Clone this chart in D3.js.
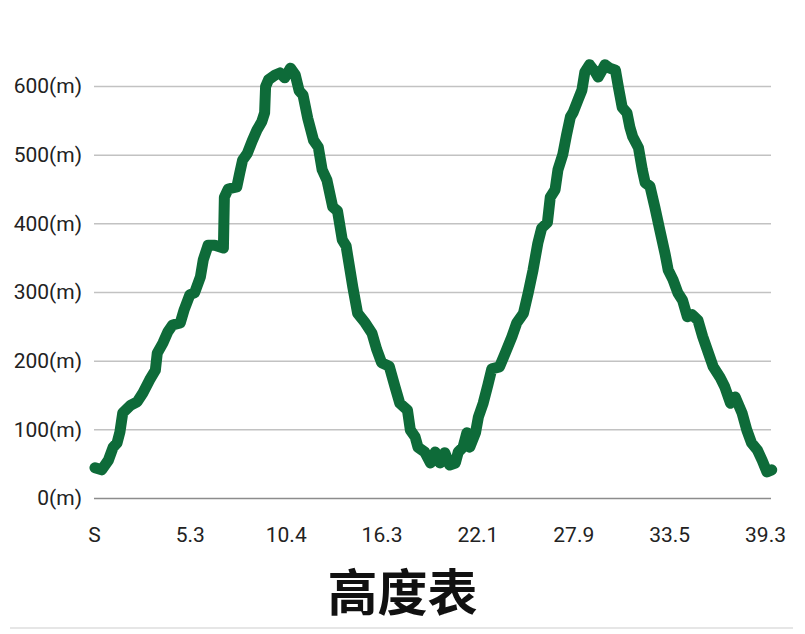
<!DOCTYPE html>
<html>
<head>
<meta charset="utf-8">
<script src="https://cdn.jsdelivr.net/npm/d3@7"></script>
<style>
	body { margin: 0; background: #fff; }
	svg { display: block; }
	.tick text { font-family: Roboto, "Noto Sans", sans-serif; font-size: 21px; fill: #222; }
</style>
</head>
<body>
<script>
// elevation profile data
// position along the route, in label intervals (S = 0, 39.3 = 7)
const pos = [0.01,0.08,0.15,0.20,0.24,0.27,0.30,0.38,0.45,0.51,
	0.58,0.64,0.66,0.72,0.77,0.82,0.90,0.94,1.00,1.05,
	1.11,1.14,1.19,1.26,1.35,1.36,1.40,1.49,1.52,1.55,
	1.60,1.65,1.70,1.75,1.78,1.79,1.82,1.89,1.94,1.99,
	2.05,2.10,2.14,2.18,2.23,2.29,2.34,2.38,2.43,2.49,
	2.54,2.59,2.63,2.70,2.75,2.83,2.90,2.95,3.00,3.08,
	3.14,3.19,3.27,3.30,3.35,3.38,3.45,3.51,3.56,3.61,
	3.66,3.71,3.77,3.80,3.85,3.89,3.92,3.98,4.01,4.06,
	4.11,4.15,4.23,4.29,4.36,4.41,4.48,4.53,4.58,4.63,
	4.67,4.73,4.76,4.81,4.84,4.89,4.93,4.97,5.00,5.05,
	5.09,5.12,5.17,5.23,5.26,5.30,5.33,5.38,5.44,5.47,
	5.51,5.56,5.59,5.62,5.68,5.72,5.75,5.80,5.85,5.90,
	5.96,5.99,6.04,6.09,6.14,6.19,6.24,6.30,6.35,6.41,
	6.46,6.53,6.58,6.64,6.69,6.76,6.81,6.86,6.92,6.97,7.02,7.07];
// elevation in metres
const elev = [44,41,55,74,80,96,124,135,140,153,
	172,186,211,226,242,252,255,274,296,299,
	322,347,368,368,364,438,450,453,473,492,
	502,520,536,548,561,599,609,616,619,612,
	626,616,593,587,553,521,511,478,463,424,
	418,376,367,307,269,255,240,216,197,192,
	162,138,128,99,89,74,67,51,67,51,
	66,48,51,67,74,95,74,95,118,138,
	165,188,191,211,235,255,269,299,332,371,
	393,401,438,449,478,500,529,555,562,580,
	594,620,631,620,613,623,631,626,623,599,
	569,561,540,526,510,478,459,454,424,392,
	354,332,318,299,288,264,267,259,235,211,
	191,176,162,138,147,124,99,80,70,55,38,41];
// distance labels (km)
const xLabels = ['S','5.3','10.4','16.3','22.1','27.9','33.5','39.3'];
const yTicks = [0,100,200,300,400,500,600];
const title = '高度表';

// layout
const W = 805, H = 634;
const plotLeft = 94, plotRight = 771, lastTick = 765;
const plotTop = 86, plotBottom = 498;

const svg = d3.select('body').append('svg').attr('width',W).attr('height',H);

const x = d3.scaleLinear().domain([0, xLabels.length-1]).range([plotLeft, lastTick]);
const y = d3.scaleLinear().domain([0, 600]).range([plotBottom, plotTop]);

// y axis with gridlines
const yAxis = svg.append('g').attr('transform','translate('+plotLeft+',0)')
	.call(d3.axisLeft(y).tickValues(yTicks).tickFormat(d => d+'(m)')
		.tickSize(-(plotRight-plotLeft)).tickPadding(12));
yAxis.select('.domain').remove();
yAxis.selectAll('.tick line')
	.attr('stroke', d => d === 0 ? '#8c8c8c' : '#c2c2c2')
	.attr('stroke-width', 1.5);

// x axis labels only
const xAxis = svg.append('g').attr('transform','translate(0,'+plotBottom+')')
	.call(d3.axisBottom(x).tickValues(d3.range(xLabels.length))
		.tickFormat(i => xLabels[i]).tickSize(0).tickPadding(29));
xAxis.select('.domain').remove();

// the profile line
const pts = pos.map((p,i) => [p, elev[i]]);
svg.append('path').datum(pts)
	.attr('fill','none')
	.attr('stroke','#0e6b39')
	.attr('stroke-width',11)
	.attr('stroke-linejoin','round')
	.attr('stroke-linecap','round')
	.attr('d', d3.line().x(d => x(d[0])).y(d => y(d[1])));

// title
svg.append('text')
	.attr('x', W/2).attr('y', 611)
	.attr('text-anchor','middle')
	.style('font-family','"Noto Sans CJK SC", "Noto Sans CJK JP", sans-serif')
	.style('font-weight','bold')
	.style('font-size','50px')
	.attr('fill','#111')
	.text(title);

// faint rule at the bottom
svg.append('line')
	.attr('x1',10).attr('x2',793).attr('y1',628).attr('y2',628)
	.attr('stroke','#e6e6e6').attr('stroke-width',2);
</script>
</body>
</html>
